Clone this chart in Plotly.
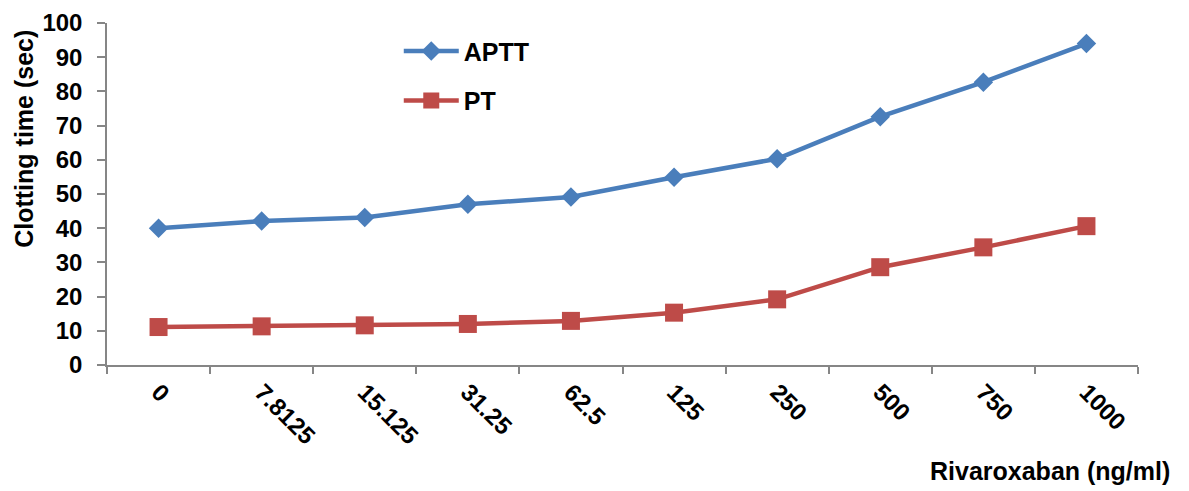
import plotly.graph_objects as go

# Rivaroxaban concentrations (ng/ml) used as category labels
concentrations = ["0", "7.8125", "15.125", "31.25", "62.5", "125", "250", "500", "750", "1000"]

# Clotting times (sec)
aptt = [40.0, 42.1, 43.1, 47.0, 49.1, 54.9, 60.3, 72.6, 82.7, 94.0]
pt = [11.1, 11.3, 11.6, 12.0, 12.9, 15.3, 19.2, 28.6, 34.4, 40.6]

y_ticks = [0, 10, 20, 30, 40, 50, 60, 70, 80, 90, 100]

BLUE = "#4A7EBB"
RED = "#BE4B48"
AXIS = "#868686"
FONT = "Liberation Sans, Arial, sans-serif"

fig = go.Figure()
fig.add_trace(go.Scatter(
    x=concentrations, y=aptt, name="APTT", mode="lines+markers",
    line=dict(color=BLUE, width=4.5),
    marker=dict(symbol="diamond", size=15, color=BLUE),
    legendgroup="a",
))
fig.add_trace(go.Scatter(
    x=concentrations, y=pt, name="PT", mode="lines+markers",
    line=dict(color=RED, width=4.5),
    marker=dict(symbol="square", size=18, color=RED),
    legendgroup="b",
))

fig.update_layout(
    width=1189, height=491,
    margin=dict(l=107, r=51, t=23, b=126),
    paper_bgcolor="white", plot_bgcolor="white",
    font=dict(family=FONT, size=24, color="black"),
    showlegend=True,
    legend=dict(
        x=0.283, y=0.985, xanchor="left", yanchor="top",
        bgcolor="rgba(0,0,0,0)",
        font=dict(family=FONT, size=25, color="black", weight="bold"),
        itemwidth=55, traceorder="grouped", tracegroupgap=14,
    ),
    xaxis=dict(
        type="category", tickson="boundaries", automargin=False,
        showline=True, linecolor=AXIS, linewidth=1.5,
        ticks="outside", ticklen=7, tickcolor=AXIS, tickwidth=1.5,
        tickangle=45, ticklabelstandoff=2,
        tickfont=dict(family=FONT, size=24, color="black", weight="bold"),
        showgrid=False, zeroline=False,
        range=[-0.5, 9.5],
    ),
    yaxis=dict(
        range=[0, 100], tickvals=y_ticks, automargin=False,
        showline=True, linecolor=AXIS, linewidth=1.5,
        ticks="outside", ticklen=8, tickcolor=AXIS, tickwidth=1.5,
        ticklabelstandoff=10,
        tickfont=dict(family=FONT, size=24, color="black", weight="bold"),
        showgrid=False, zeroline=False,
    ),
    annotations=[
        dict(
            text="<b>Clotting time (sec)</b>", textangle=-90,
            xref="paper", yref="paper", x=-0.08, y=0.66,
            xanchor="center", yanchor="middle", showarrow=False,
            font=dict(family=FONT, size=25, color="black"),
        ),
        dict(
            text="<b>Rivaroxaban (ng/ml)</b>",
            xref="paper", yref="paper", x=1.033, y=-0.31,
            xanchor="right", yanchor="middle", showarrow=False,
            font=dict(family=FONT, size=25, color="black"),
        ),
    ],
)

fig.write_html("out.html")
